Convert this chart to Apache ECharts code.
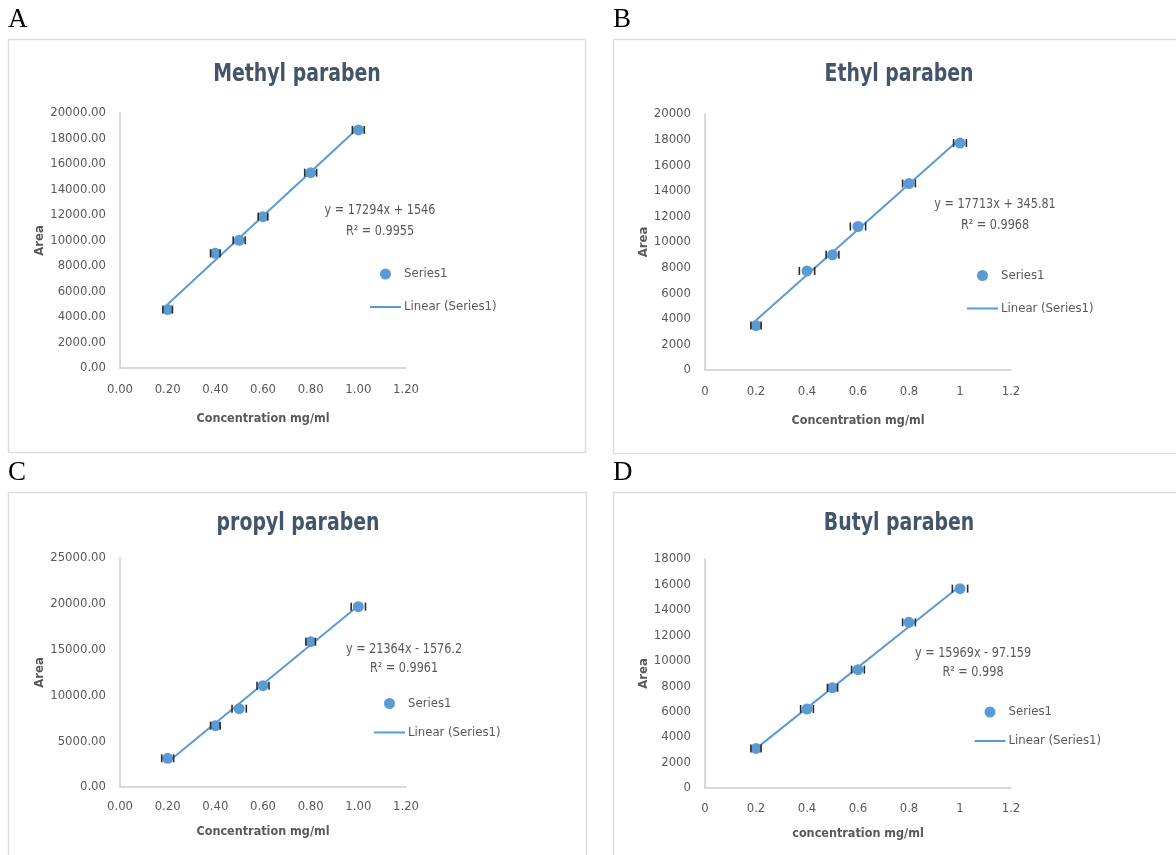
<!DOCTYPE html>
<html>
<head>
<meta charset="utf-8">
<title>Paraben calibration curves</title>
<script src="https://cdn.jsdelivr.net/npm/echarts@6/dist/echarts.min.js"></script>
<style>
  html, body { margin: 0; padding: 0; background: #ffffff; }
  #chart { width: 1176px; height: 855px; }
</style>
</head>
<body>
<div id="chart"></div>
<script>
// Concentrations (mg/ml) shared by all four calibration sets
const concentration = [0.2, 0.4, 0.5, 0.6, 0.8, 1.0];

// Peak areas per paraben
const methylArea = [4580, 9000, 10010, 11870, 15320, 18670];
const ethylArea  = [3470, 7740, 9000, 11210, 14570, 17730];
const propylArea = [3130, 6700, 8550, 11060, 15860, 19690];
const butylArea  = [3110, 6210, 7880, 9300, 13020, 15670];

// Horizontal error (mg/ml) per point
const methylErr = [0.02, 0.02, 0.025, 0.02, 0.025, 0.025];
const ethylErr  = [0.02, 0.03, 0.025, 0.03, 0.025, 0.025];
const propylErr = [0.025, 0.02, 0.03, 0.025, 0.02, 0.03];
const butylErr  = [0.02, 0.025, 0.02, 0.025, 0.025, 0.03];

// Least-squares fits: [slope, intercept] and R²
const methylFit = [17294, 1546];
const ethylFit  = [17713, 345.81];
const propylFit = [21364, -1576.2];
const butylFit  = [15969, -97.159];
const methylR2 = '0.9955';
const ethylR2  = '0.9968';
const propylR2 = '0.9961';
const butylR2  = '0.998';

// Equation labels as printed
const methylEq = 'y = 17294x + 1546';
const ethylEq  = 'y = 17713x + 345.81';
const propylEq = 'y = 21364x - 1576.2';
const butylEq  = 'y = 15969x - 97.159';

// Titles, axis names, panel letters
const panelTitles = ['Methyl paraben', 'Ethyl paraben', 'propyl paraben', 'Butyl paraben'];
const xNames = ['Concentration mg/ml', 'Concentration mg/ml', 'Concentration mg/ml', 'concentration mg/ml'];
const yName = 'Area';
const panelLetters = ['A', 'B', 'C', 'D'];

// Y-axis ranges
const yMax = [20000, 20000, 25000, 18000];
const yStep = [2000, 2000, 5000, 2000];

const NARROW = '"Liberation Sans Narrow", "DejaVu Sans Condensed", "Liberation Sans", sans-serif';
const BLUE = '#5B9BD5';
const GREY_TEXT = '#595959';
const AXIS_LINE = '#C8CED6';
const LINE_ICON = 'path://M0,0L31,0L31,2L0,2Z';

const panels = [
  { area: methylArea, err: methylErr, fit: methylFit, r2: methylR2, eq: methylEq, decimals: true,
    grid: { left: 120, top: 113, width: 286, height: 255 }, xGap: 44, yGap: 74, labelMargin: 15,
    border: [8, 39, 577, 413], letter: [8, 33], titlePos: [297, 74], eqPos: [380, 220.5], eqLH: 21,
    legend: { left: 370, top: 267.5, gap: 20 } },
  { area: ethylArea, err: ethylErr, fit: ethylFit, r2: ethylR2, eq: ethylEq, decimals: false,
    grid: { left: 705, top: 114, width: 306, height: 256 }, xGap: 44, yGap: 55, labelMargin: 15,
    border: [613, 39, 600, 414], letter: [613, 33], titlePos: [899, 74], eqPos: [995, 215], eqLH: 21.5,
    legend: { left: 967, top: 269, gap: 20 } },
  { area: propylArea, err: propylErr, fit: propylFit, r2: propylR2, eq: propylEq, decimals: true,
    grid: { left: 120, top: 558, width: 286, height: 229 }, xGap: 38, yGap: 74, labelMargin: 13,
    border: [8, 492, 578, 400], letter: [8, 486], titlePos: [298, 523], eqPos: [404, 659], eqLH: 19,
    legend: { left: 374, top: 697, gap: 16 } },
  { area: butylArea, err: butylErr, fit: butylFit, r2: butylR2, eq: butylEq, decimals: false,
    grid: { left: 705, top: 559, width: 306, height: 229 }, xGap: 39, yGap: 55, labelMargin: 14,
    border: [613, 492, 600, 400], letter: [613, 486], titlePos: [899, 523], eqPos: [973, 663], eqLH: 19.5,
    legend: { left: 974.5, top: 705.5, gap: 16 } }
];

const grids = [], xAxes = [], yAxes = [], series = [], legends = [], graphics = [];

panels.forEach((p, i) => {
  grids.push(Object.assign({ containLabel: false }, p.grid));

  xAxes.push({
    type: 'value', gridIndex: i, min: 0, max: 1.2, interval: 0.2,
    name: xNames[i], nameLocation: 'middle', nameGap: p.xGap,
    nameTextStyle: { fontFamily: NARROW, fontWeight: 'bold', fontSize: 12.5, color: GREY_TEXT },
    axisLine: { show: true, onZero: false, lineStyle: { color: AXIS_LINE, width: 1.5 } },
    axisTick: { show: false },
    splitLine: { show: false },
    axisLabel: {
      fontFamily: NARROW, fontSize: 13, color: GREY_TEXT, margin: p.labelMargin,
      formatter: v => p.decimals ? v.toFixed(2) : String(+v.toFixed(1))
    }
  });

  yAxes.push({
    type: 'value', gridIndex: i, min: 0, max: yMax[i], interval: yStep[i],
    name: yName, nameLocation: 'middle', nameGap: p.yGap, nameRotate: 90,
    nameTextStyle: { fontFamily: NARROW, fontWeight: 'bold', fontSize: 13, color: GREY_TEXT },
    axisLine: { show: true, lineStyle: { color: AXIS_LINE, width: 1.5 } },
    axisTick: { show: false },
    splitLine: { show: false },
    axisLabel: {
      fontFamily: NARROW, fontSize: 13, color: GREY_TEXT, margin: 14,
      formatter: v => p.decimals ? v.toFixed(2) : String(v)
    }
  });

  const points = concentration.map((c, k) => [c, p.area[k]]);
  const errPoints = concentration.map((c, k) => [c, p.area[k], p.err[k]]);
  const xFirst = concentration[0], xLast = concentration[concentration.length - 1];

  // Fitted line across the measured range
  series.push({
    name: 'Linear (Series1)', type: 'line', xAxisIndex: i, yAxisIndex: i,
    data: [[xFirst, p.fit[0] * xFirst + p.fit[1]], [xLast, p.fit[0] * xLast + p.fit[1]]],
    symbol: 'none', lineStyle: { color: BLUE, width: 2 }, itemStyle: { color: BLUE },
    z: 2, silent: true, animation: false
  });

  // Measured points
  series.push({
    name: 'Series1', type: 'scatter', xAxisIndex: i, yAxisIndex: i,
    data: points, symbol: 'circle', symbolSize: 11,
    itemStyle: { color: BLUE, opacity: 1 }, z: 3, animation: false
  });

  // Horizontal error bars with caps
  series.push({
    name: 'err' + i, type: 'custom', xAxisIndex: i, yAxisIndex: i,
    data: errPoints, z: 4, silent: true, animation: false,
    renderItem: (params, api) => {
      const x = api.value(0), y = api.value(1), e = api.value(2);
      const a = api.coord([x - e, y]), b = api.coord([x + e, y]);
      const h = 4;
      const st = { stroke: '#2b2b2b', lineWidth: 1.6 };
      return {
        type: 'group',
        children: [
          { type: 'line', shape: { x1: a[0], y1: a[1] - h, x2: a[0], y2: a[1] + h }, style: st },
          { type: 'line', shape: { x1: b[0], y1: b[1] - h, x2: b[0], y2: b[1] + h }, style: st }
        ]
      };
    }
  });

  legends.push({
    orient: 'vertical', left: p.legend.left, top: p.legend.top, padding: 0,
    itemWidth: 31, itemHeight: 11, itemGap: p.legend.gap,
    selectedMode: false,
    textStyle: { fontFamily: NARROW, fontSize: 13, color: GREY_TEXT, padding: [0, 0, 0, -2] },
    data: [
      { name: 'Series1', icon: 'circle' },
      { name: 'Linear (Series1)', icon: LINE_ICON, itemStyle: { color: BLUE } }
    ]
  });

  // Panel frame
  graphics.push({
    type: 'rect', silent: true, z: -1,
    shape: { x: p.border[0] + 0.5, y: p.border[1] + 0.5, width: p.border[2], height: p.border[3] },
    style: { fill: '#ffffff', stroke: '#D9DEE4', lineWidth: 1.5 }
  });
  // Panel letter
  graphics.push({
    type: 'text', x: p.letter[0], y: p.letter[1], silent: true,
    style: { text: panelLetters[i], fontFamily: '"Liberation Serif", "DejaVu Serif", serif',
             fontSize: 27, fill: '#000000', verticalAlign: 'bottom', align: 'left' }
  });
  // Panel title (slightly tall lettering)
  graphics.push({
    type: 'text', x: p.titlePos[0], y: p.titlePos[1], scaleY: 1.2, silent: true,
    style: { text: panelTitles[i], fontFamily: NARROW, fontWeight: 'bold', fontSize: 21,
             fill: '#44546A', align: 'center', verticalAlign: 'middle' }
  });
  // Fit equation and R²
  graphics.push({
    type: 'text', x: p.eqPos[0], y: p.eqPos[1], scaleY: 1.12, silent: true,
    style: { text: p.eq + '\nR² = ' + p.r2, fontFamily: NARROW, fontSize: 12.5, lineHeight: p.eqLH / 1.12,
             fill: GREY_TEXT, align: 'center', verticalAlign: 'middle' }
  });
});

const chart = echarts.init(document.getElementById('chart'), null, { renderer: 'canvas' });
chart.setOption({
  backgroundColor: '#ffffff',
  animation: false,
  grid: grids,
  xAxis: xAxes,
  yAxis: yAxes,
  legend: legends,
  series: series,
  graphic: graphics
});
</script>
</body>
</html>
